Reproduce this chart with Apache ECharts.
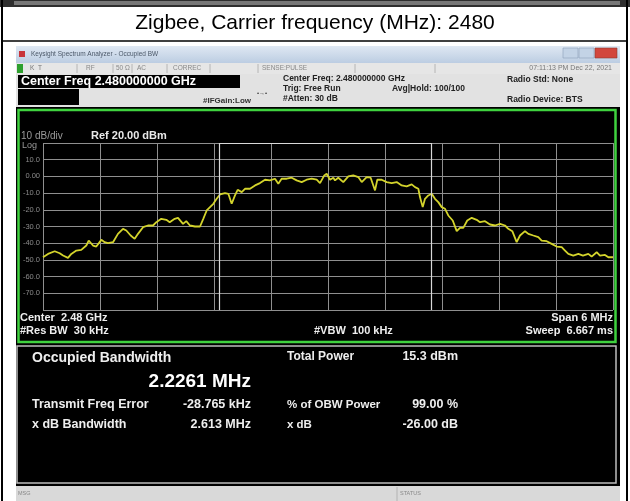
<!DOCTYPE html>
<html>
<head>
<meta charset="utf-8">
<script src="https://cdn.jsdelivr.net/npm/echarts/dist/echarts.min.js"></script>
<style>
html, body { margin: 0; padding: 0; background: #fff; }
#main { width: 630px; height: 501px; }
</style>
</head>
<body>
<div id="main"></div>
<script>
// frequency offset from 2.48 GHz centre (kHz), level (dBm)
var trace = [
    [-3000, -48.4], [-2947, -46.4], [-2877, -44.8], [-2824, -46], [-2789, -47.4], [-2737, -48.8],
    [-2702, -46.4], [-2649, -44.4], [-2597, -44], [-2544, -41.4], [-2519, -38.4], [-2474, -41.4],
    [-2439, -42], [-2386, -38], [-2351, -39.4], [-2316, -40], [-2263, -39.4], [-2211, -34.4],
    [-2158, -31.4], [-2123, -32.4], [-2077, -35.4], [-2035, -37.4], [-2000, -34.4], [-1947, -30.4],
    [-1895, -29.4], [-1842, -29.4], [-1807, -27.4], [-1755, -25.4], [-1702, -26], [-1666, -27.4],
    [-1614, -25.4], [-1579, -24.8], [-1526, -28.4], [-1492, -26.8], [-1453, -29.4], [-1400, -30],
    [-1347, -30], [-1313, -25.4], [-1277, -20.4], [-1242, -18.4], [-1207, -16.4], [-1172, -13.4],
    [-1137, -10.8], [-1084, -10], [-1049, -10.4], [-1014, -16.4], [-979, -11.4], [-951, -8],
    [-908, -9.4], [-874, -7.4], [-821, -7.4], [-768, -5.4], [-716, -4], [-663, -2],
    [-611, -2.4], [-558, -1.4], [-523, -4.4], [-488, -1.4], [-435, -1.4], [-382, -0.8],
    [-330, -2.4], [-277, -3.4], [-225, -2], [-172, -1.4], [-119, -2], [-84, -4],
    [-39, 0.6], [-14, 1.6], [21, -2], [56, -0.8], [74, -2.4], [108, -0.8],
    [161, -3.4], [214, 0], [266, 0.6], [319, -0.4], [355, -3.4], [407, -0.4],
    [449, -0.8], [495, -8.4], [519, -2], [565, -2], [618, -3.4], [671, -4],
    [723, -3.4], [776, -5.4], [828, -6], [881, -4.8], [916, -6.4], [951, -7.4],
    [968, -12.4], [997, -18.4], [1021, -13.4], [1056, -11.4], [1092, -10.4], [1126, -13.4],
    [1161, -15.4], [1197, -18.4], [1232, -19.4], [1266, -23.4], [1313, -26.4], [1355, -32.8],
    [1389, -30.8], [1424, -30.8], [1466, -26.4], [1513, -24.8], [1565, -26], [1600, -27.4],
    [1653, -26.8], [1705, -28.8], [1758, -29.4], [1811, -28.4], [1863, -29.4], [1898, -31.4],
    [1940, -32.8], [1986, -39.4], [2021, -35.4], [2074, -32.8], [2109, -34.4], [2161, -35.4],
    [2214, -36.4], [2249, -38.4], [2302, -38.8], [2354, -40.4], [2407, -42], [2460, -42.4],
    [2495, -44.4], [2530, -46.4], [2582, -47.4], [2635, -46.4], [2684, -47.4], [2740, -46.4],
    [2775, -48], [2828, -45.4], [2863, -47.4], [2916, -47], [2951, -48.4], [3000, -48.4]
];

var yTickValues = [20, 10, 0, -10, -20, -30, -40, -50, -60, -70, -80];
var yTickLabels = ['', '10.0', '0.00', '-10.0', '-20.0', '-30.0', '-40.0', '-50.0', '-60.0', '-70.0', ''];

// occupied bandwidth result (kHz)
var obwKHz = 2226.1;
var freqErrKHz = -28.765;

var headerLeft = ['Center Freq: 2.480000000 GHz', 'Trig: Free Run', '#Atten: 30 dB'];
var headerRight = ['Radio Std: None', 'Avg|Hold: 100/100', 'Radio Device: BTS'];
var footerLeft = ['Center  2.48 GHz', '#Res BW  30 kHz'];
var footerRight = ['Span 6 MHz', 'Sweep  6.667 ms'];
var resultRows = [
    ['Transmit Freq Error', '-28.765 kHz', '% of OBW Power', '99.00 %'],
    ['x dB Bandwidth', '2.613 MHz', 'x dB', '-26.00 dB']
];

var myChart = echarts.init(document.getElementById('main'));

var FONT = 'Liberation Sans, Arial, sans-serif';

function txt(x, y, s, size, color, opts) {
    opts = opts || {};
    return {
        type: 'text', x: x, y: y, z: opts.z || 10,
        style: {
            text: s,
            fill: color,
            font: (opts.bold ? 'bold ' : '') + size + 'px ' + FONT,
            textAlign: opts.align || 'left',
            textVerticalAlign: 'middle'
        }
    };
}
function box(x, y, w, h, fill, opts) {
    opts = opts || {};
    return {
        type: 'rect', z: opts.z == null ? -5 : opts.z,
        shape: { x: x, y: y, width: w, height: h },
        style: { fill: fill, stroke: opts.stroke || null, lineWidth: opts.lw || 0 }
    };
}
function ln(x1, y1, x2, y2, color, w, z) {
    return {
        type: 'line', z: z == null ? -4 : z,
        shape: { x1: x1, y1: y1, x2: x2, y2: y2 },
        style: { stroke: color, lineWidth: w }
    };
}

var g = [];
// page frame
g.push(box(0, 0, 630, 7, '#2e2e2e'));
g.push(box(14, 1, 606, 4, '#777777'));
g.push(ln(2, 0, 2, 501, '#000', 2));
g.push(ln(627, 0, 627, 501, '#000', 2));
g.push(ln(2, 41, 627, 41, '#000', 1.5));
g.push(txt(315, 23, 'Zigbee, Carrier frequency (MHz): 2480', 21, '#000', { align: 'center' }));

// window title bar
g.push({
    type: 'rect', z: -5,
    shape: { x: 16, y: 46, width: 604, height: 17 },
    style: { fill: new echarts.graphic.LinearGradient(0, 0, 0, 1, [
        { offset: 0, color: '#dfe8f3' }, { offset: 1, color: '#bccde2' }]) }
});
g.push(box(19, 51, 6, 6, '#c8343a', { z: 1 }));
g.push(txt(31, 54, 'Keysight Spectrum Analyzer - Occupied BW', 6.5, '#4b5868'));
g.push(box(563, 48, 15, 10, '#c3d3e6', { z: 1, stroke: '#8aa0bb', lw: 0.6 }));
g.push(box(579, 48, 15, 10, '#c3d3e6', { z: 1, stroke: '#8aa0bb', lw: 0.6 }));
g.push(box(595, 48, 22, 10, '#d2463c', { z: 1, stroke: '#8a3a30', lw: 0.6 }));

// status row
g.push(box(16, 63, 604, 11, '#e6e6e6'));
g.push(box(17, 64, 6, 9, '#2ea02e', { z: 1 }));
[77, 113, 132, 167, 210, 258, 355, 435].forEach(function (x) {
    g.push(ln(x, 64, x, 73, '#a8a8a8', 0.8));
});
g.push(txt(30, 68.5, 'K  T', 6.5, '#777'));
g.push(txt(86, 68.5, 'RF', 6.5, '#888'));
g.push(txt(116, 68.5, '50 \u03A9', 6.5, '#888'));
g.push(txt(137, 68.5, 'AC', 6.5, '#888'));
g.push(txt(173, 68.5, 'CORREC', 6.5, '#888'));
g.push(txt(262, 68.5, 'SENSE:PULSE', 6.5, '#888'));
g.push(txt(612, 68.5, '07:11:13 PM Dec 22, 2021', 7, '#777', { align: 'right' }));

// header panel
g.push(box(16, 74, 604, 34, '#e2e2e2'));
g.push(box(18, 75, 222, 13, '#000', { z: 1 }));
g.push(txt(21, 81.5, 'Center Freq 2.480000000 GHz', 12.5, '#fff', { bold: true }));
g.push(box(18, 89, 61, 16, '#000', { z: 1 }));
g.push(txt(203, 101, '#IFGain:Low', 8, '#333', { bold: true }));
g.push(txt(257, 93, '\u2022\u2192\u2022', 6, '#333'));
headerLeft.forEach(function (s, i) {
    g.push(txt(283, 79 + i * 10, s, 8.5, '#222', { bold: true }));
});
g.push(txt(507, 80, headerRight[0], 8.5, '#222', { bold: true }));
g.push(txt(392, 89, headerRight[1], 8.5, '#222', { bold: true }));
g.push(txt(507, 100, headerRight[2], 8.5, '#222', { bold: true }));

// display area
g.push(box(16, 107, 604, 380, '#000'));
g.push(box(18.5, 110, 597, 232, '#000', { z: -3, stroke: '#3fd23f', lw: 2.5 }));
g.push(txt(21, 136, '10 dB/div', 10, '#9a9a9a'));
g.push(txt(91, 136, 'Ref 20.00 dBm', 11, '#e8e8e8', { bold: true }));
g.push(txt(22, 146, 'Log', 9, '#9a9a9a'));
g.push(txt(20, 318, footerLeft[0], 11, '#eee', { bold: true }));
g.push(txt(20, 331, footerLeft[1], 11, '#eee', { bold: true }));
g.push(txt(314, 331, '#VBW  100 kHz', 11, '#eee', { bold: true }));
g.push(txt(613, 318, footerRight[0], 11, '#eee', { bold: true, align: 'right' }));
g.push(txt(613, 331, footerRight[1], 11, '#eee', { bold: true, align: 'right' }));

// result panel
g.push(box(17, 346, 599, 137, '#000', { z: -3, stroke: '#bdbdbd', lw: 1.5 }));
g.push(txt(32, 358, 'Occupied Bandwidth', 14, '#eee', { bold: true }));
g.push(txt(251, 382, (obwKHz / 1000).toFixed(4) + ' MHz', 19, '#fff', { bold: true, align: 'right' }));
g.push(txt(287, 357, 'Total Power', 12, '#eee', { bold: true }));
g.push(txt(458, 357, '15.3 dBm', 12.5, '#eee', { bold: true, align: 'right' }));
resultRows.forEach(function (r, i) {
    var y = 405 + i * 20;
    g.push(txt(32, y, r[0], 12.5, '#eee', { bold: true }));
    g.push(txt(251, y, r[1], 12.5, '#eee', { bold: true, align: 'right' }));
    g.push(txt(287, y, r[2], 11.5, '#eee', { bold: true }));
    g.push(txt(458, y, r[3], 12.5, '#eee', { bold: true, align: 'right' }));
});

// message bar
g.push(box(16, 486, 604, 15, '#d9d9d9'));
g.push(ln(397, 487, 397, 501, '#aaa', 0.8));
g.push(txt(18, 493, 'MSG', 5.5, '#888'));
g.push(txt(400, 493, 'STATUS', 5.5, '#888'));

var obwLeft = freqErrKHz - obwKHz / 2;
var obwRight = freqErrKHz + obwKHz / 2;

option = {
    backgroundColor: '#fff',
    animation: false,
    graphic: g,
    grid: { left: 43, top: 143, width: 570, height: 167, show: false },
    xAxis: {
        type: 'value', min: -3000, max: 3000, interval: 600,
        axisLine: { show: false }, axisTick: { show: false }, axisLabel: { show: false },
        splitLine: { show: true, lineStyle: { color: '#8f8f8f', width: 1 } }
    },
    yAxis: {
        type: 'value', min: -80, max: 20, interval: 10,
        axisLine: { show: false }, axisTick: { show: false },
        axisLabel: {
            show: true, margin: 3, color: '#8c8c8c', fontSize: 7.5, fontFamily: FONT,
            formatter: function (v) {
                var i = yTickValues.indexOf(Math.round(v));
                return i < 0 ? '' : yTickLabels[i];
            }
        },
        splitLine: { show: true, lineStyle: { color: '#8f8f8f', width: 1 } }
    },
    series: [{
        type: 'line',
        data: trace,
        showSymbol: false,
        lineStyle: { color: '#d4d42c', width: 1.8 },
        markLine: {
            silent: true, symbol: 'none', label: { show: false },
            lineStyle: { color: '#d8d8d8', width: 1.2, type: 'solid' },
            data: [
                { xAxis: obwLeft },
                { xAxis: obwRight },
                [{ coord: [obwLeft, 20] }, { coord: [obwRight, 20] }]
            ]
        }
    }]
};

myChart.setOption(option);
</script>
</body>
</html>
